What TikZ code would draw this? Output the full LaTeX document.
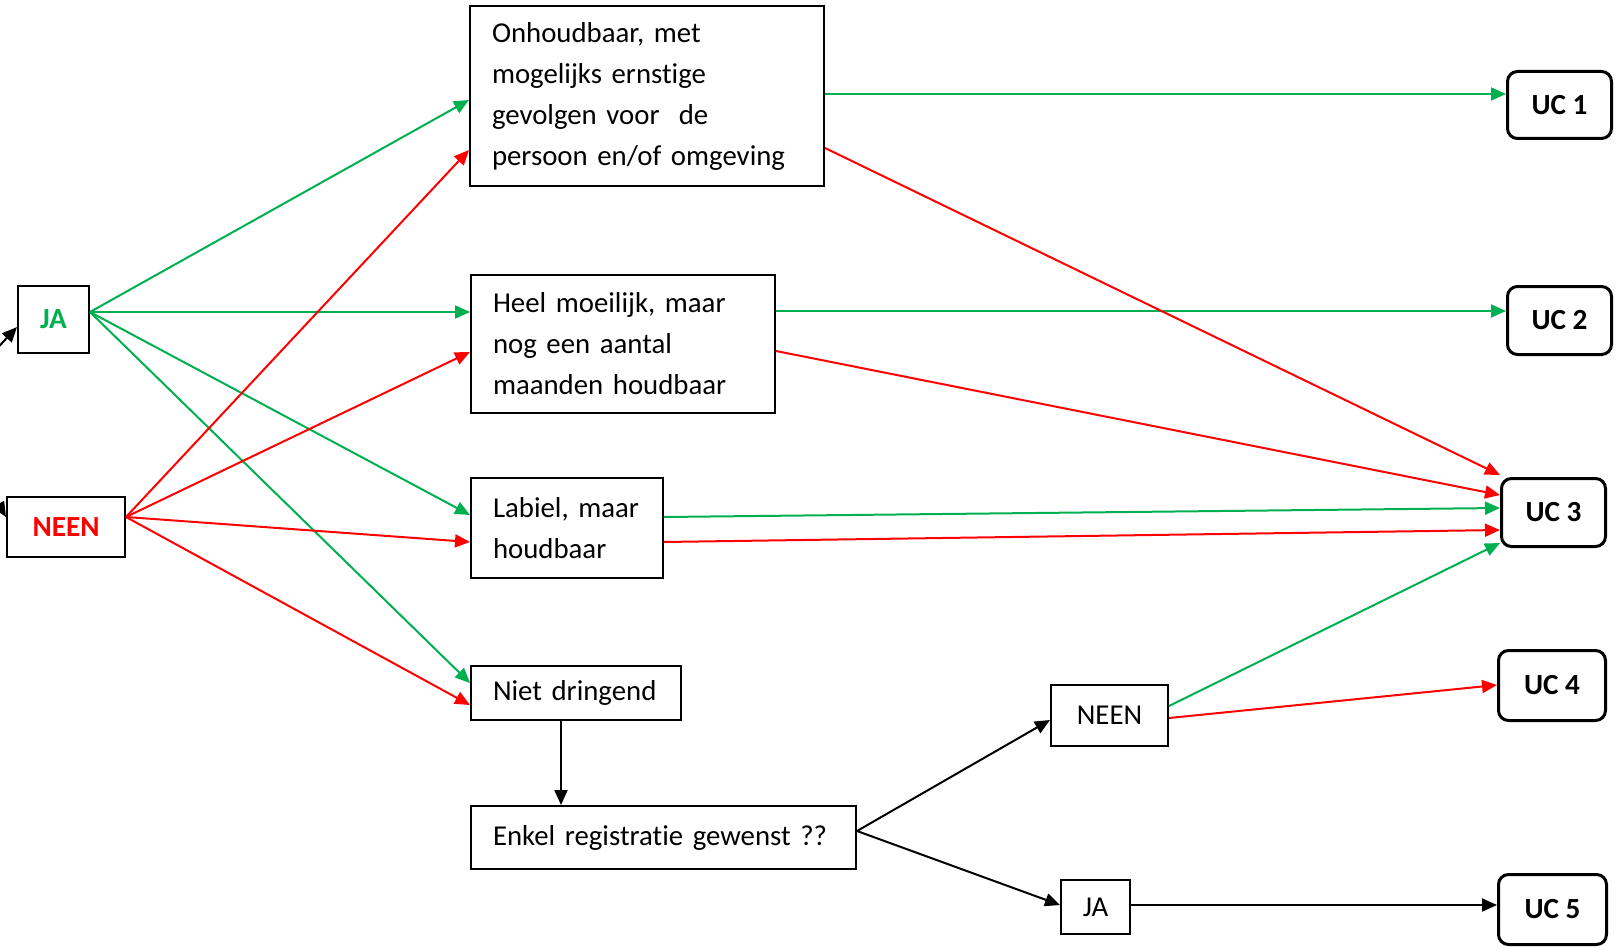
\documentclass[tikz,border=0pt]{standalone}
\usepackage{fontspec}
\setmainfont{Carlito}[RawFeature={-liga}, WordSpace={1,0,0}, PunctuationSpace=WordSpace]
\usetikzlibrary{arrows.meta}
\definecolor{mygreen}{RGB}{0,176,80}
\definecolor{myred}{RGB}{255,0,0}
\begin{document}
\frenchspacing
\begin{tikzpicture}[x=0.5pt,y=-0.5pt,
  every node/.style={font=\fontsize{14.4}{20.5}\selectfont},
  box/.style={draw, line width=1pt, anchor=north west, inner sep=0pt},
  tbox/.style={box, align=left, inner xsep=11pt, inner ysep=0pt},
  uc/.style={draw, line width=1.5pt, rounded corners=5pt, anchor=north west, inner sep=0pt, font=\fontsize{14.6}{20.5}\selectfont\bfseries},
  conn/.style={line width=1pt, -{Triangle[length=7.5pt,width=6.5pt]}},
  g/.style={conn, draw=mygreen},
  r/.style={conn, draw=myred},
  k/.style={conn, draw=black}
]
\useasboundingbox (0,0) rectangle (1618,947);

% left decision boxes
\node[box, minimum width=35.5pt, minimum height=33.5pt, text=mygreen, font=\fontsize{14.6}{20.5}\selectfont\bfseries] (ja) at (17,285) {JA};
\node[box, minimum width=59pt, minimum height=30pt, text=myred, font=\fontsize{14.6}{20.5}\selectfont\bfseries] (neen) at (6,496) {NEEN};

% middle boxes
\node[tbox, text width=155pt, minimum height=90pt] (b1) at (469,5) {Onhoudbaar, met\\mogelijks ernstige\\gevolgen voor\ \ de\\persoon en/of omgeving};
\node[tbox, text width=130pt, minimum height=69pt] (b2) at (470,274) {Heel moeilijk, maar\\nog een aantal\\maanden houdbaar};
\node[tbox, text width=74pt, minimum height=50pt] (b3) at (470,477) {Labiel,~maar\\houdbaar};
\node[tbox, text width=83pt, minimum height=27pt] (b4) at (470,665) {Niet~dringend};
\node[tbox, text width=170.5pt, minimum height=31.5pt] (b5) at (470,805) {Enkel registratie gewenst ??};

% second level decision
\node[box, minimum width=58.5pt, minimum height=30.5pt] (n2) at (1050,684) {NEEN};
\node[box, minimum width=34.5pt, minimum height=27pt] (j2) at (1060,879) {JA};

% UC boxes
\node[uc, minimum width=52pt, minimum height=33.5pt] (uc1) at (1506,70) {UC 1};
\node[uc, minimum width=52pt, minimum height=34pt] (uc2) at (1506,285) {UC 2};
\node[uc, minimum width=52pt, minimum height=34pt] (uc3) at (1500,477) {UC 3};
\node[uc, minimum width=53.5pt, minimum height=35pt] (uc4) at (1497,649) {UC 4};
\node[uc, minimum width=54pt, minimum height=35pt] (uc5) at (1497,873) {UC 5};

% incoming arrows from outside
\coordinate (inja) at (-10,356);
\coordinate (inneen) at (-6,497);
\draw[k] (inja) -- (ja.west |- 0,327);
\draw[k] (inneen) -- (neen.west |- 0,517);

% JA fan
\draw[g] (ja.east |- 0,312) -- (b1.west |- 0,100);
\draw[g] (ja.east |- 0,312) -- (b2.west |- 0,312);
\draw[g] (ja.east |- 0,312) -- (b3.west |- 0,515);
\draw[g] (ja.east |- 0,312) -- (b4.west |- 0,683);

% NEEN fan
\draw[r] (neen.east |- 0,517) -- (b1.west |- 0,150);
\draw[r] (neen.east |- 0,517) -- (b2.west |- 0,352);
\draw[r] (neen.east |- 0,517) -- (b3.west |- 0,542);
\draw[r] (neen.east |- 0,517) -- (b4.west |- 0,705);

% to UC
\draw[g] (b1.east |- 0,94) -- (uc1.west |- 0,94);
\draw[g] (b2.east |- 0,311) -- (uc2.west |- 0,311);
\draw[g] (b3.east |- 0,517) -- (uc3.west |- 0,508);
\draw[g] (n2.east |- 0,706) -- (uc3.west |- 0,543);
\draw[r] (b1.east |- 0,148) -- (uc3.west |- 0,475);
\draw[r] (b2.east |- 0,351) -- (uc3.west |- 0,495);
\draw[r] (b3.east |- 0,542) -- (uc3.west |- 0,530);
\draw[r] (n2.east |- 0,718) -- (uc4.west |- 0,685);

% black flow
\draw[k] (b4.south -| 561,0) -- (b5.north -| 561,0);
\draw[k] (b5.east |- 0,831) -- (n2.west |- 0,720);
\draw[k] (b5.east |- 0,831) -- (j2.west |- 0,905);
\draw[k] (j2.east |- 0,905) -- (uc5.west |- 0,905);
\end{tikzpicture}
\end{document}
